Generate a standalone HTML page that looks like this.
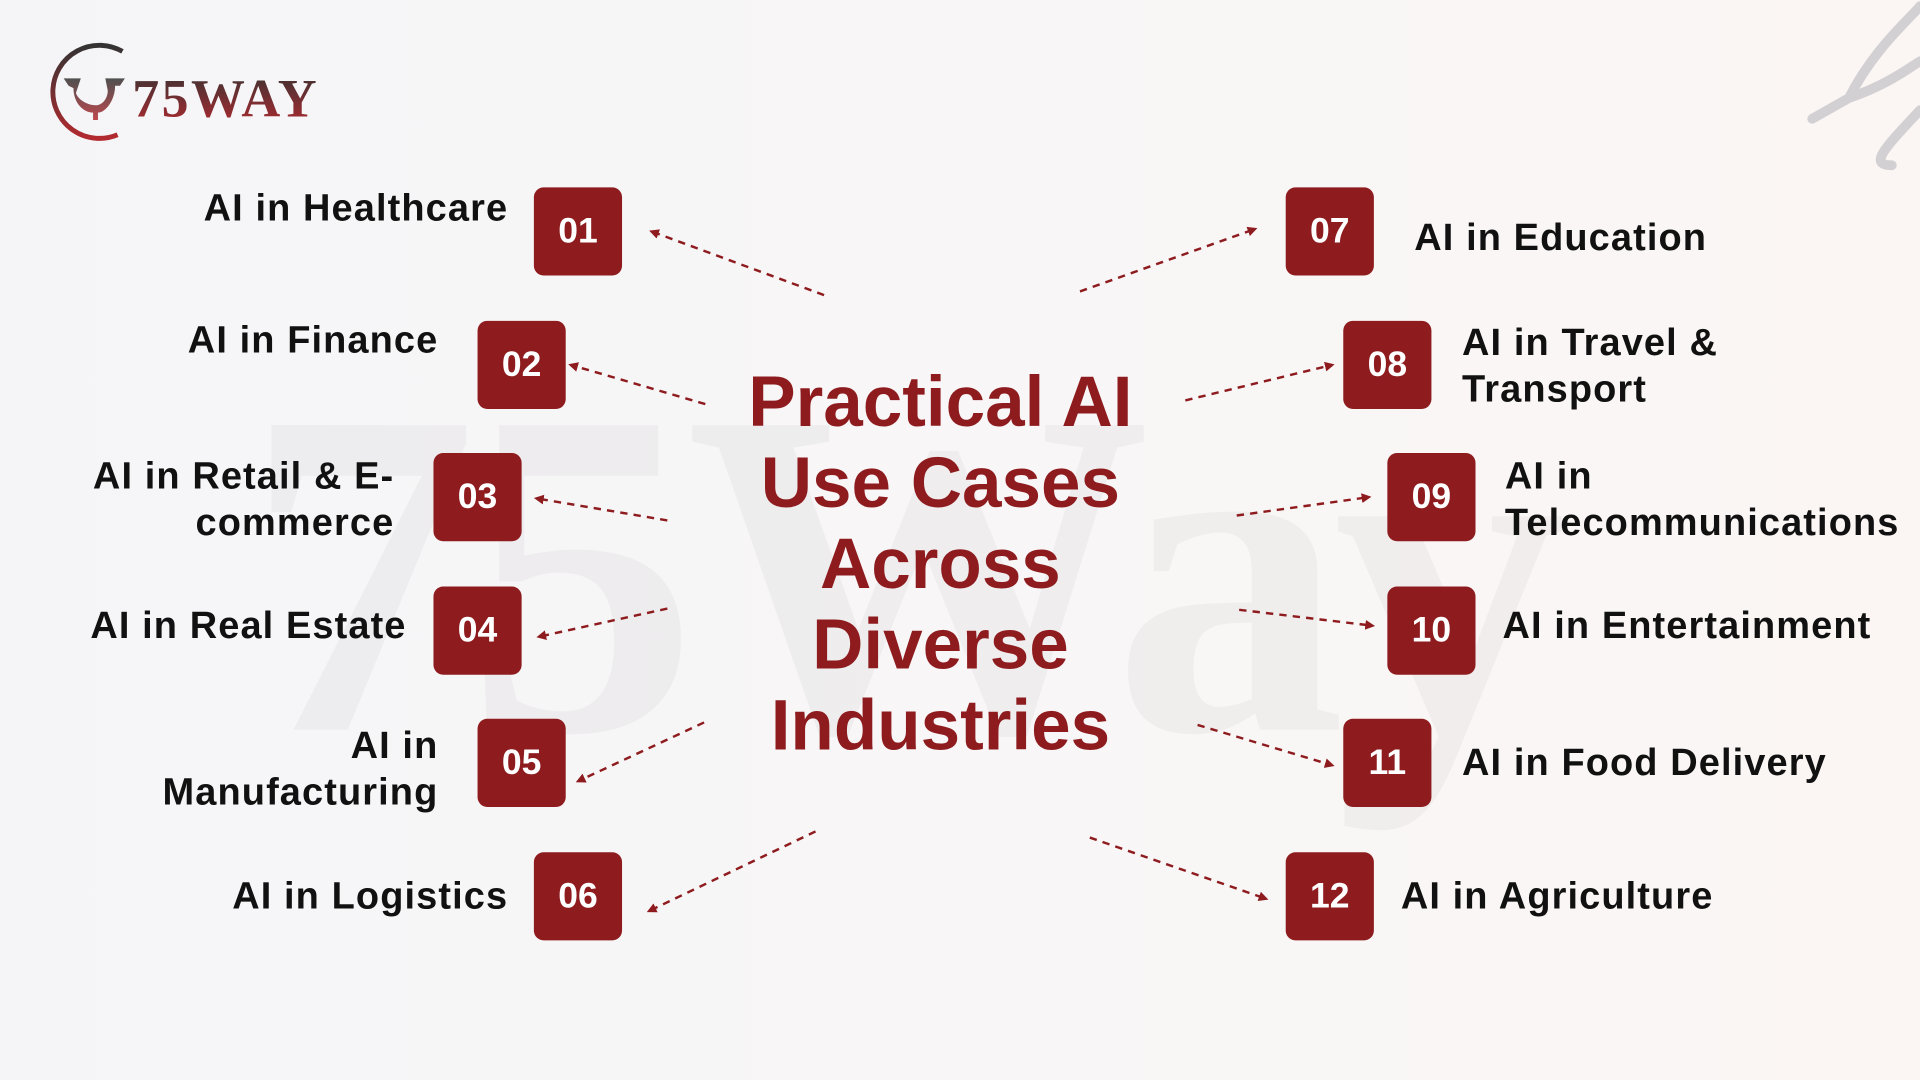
<!DOCTYPE html>
<html><head><meta charset="utf-8"><style>
html,body{margin:0;padding:0;width:1920px;height:1080px;overflow:hidden;background:#f6f5f7}
#s{position:absolute;left:0;top:0;width:1568px;height:882px;transform:scale(1.22449);transform-origin:0 0;background:linear-gradient(90deg,#f5f5f7 0%,#f8f6f7 50%,#fbf6f4 100%);font-family:"Liberation Sans",sans-serif}
.b{position:absolute;width:72px;height:72px;border-radius:8px;background:#8e1c1f;color:#fff;font-weight:bold;font-size:29px;display:flex;align-items:center;justify-content:center}
.l{position:absolute;font-size:31px;font-weight:bold;color:#111;line-height:38px;letter-spacing:0.9px}
.r{text-align:right}
#t{position:absolute;left:568px;top:296px;width:400px;text-align:center;color:#8e1c1f;font-weight:bold;font-size:58px;line-height:66px}
#wm{position:absolute;left:200px;top:250px;font-family:"Liberation Serif",serif;font-weight:bold;font-size:380px;color:rgba(0,0,0,0.035);letter-spacing:-10px}
</style></head><body><div id="s">
<div id="wm">75Way</div>
<svg width="1568" height="882" style="position:absolute;left:0;top:0">
<defs><marker id="a" markerWidth="8" markerHeight="8" refX="6" refY="4" orient="auto" markerUnits="userSpaceOnUse"><path d="M0,0 L8,4 L0,8 z" fill="#8e1c1f"/></marker>
<linearGradient id="g" x1="0" y1="0" x2="0" y2="1"><stop offset="0" stop-color="#333"/><stop offset="1" stop-color="#b22a30"/></linearGradient></defs>
<g stroke="#8e1c1f" stroke-width="2" stroke-dasharray="6,5" fill="none" marker-end="url(#a)">
<line x1="673" y1="241" x2="532" y2="189"/><line x1="576" y1="330" x2="466" y2="298"/>
<line x1="545" y1="425" x2="438" y2="407"/><line x1="545" y1="497" x2="440" y2="520"/>
<line x1="575" y1="590" x2="472" y2="638"/><line x1="666" y1="679" x2="530" y2="744"/>
<line x1="882" y1="238" x2="1025" y2="187"/><line x1="968" y1="327" x2="1088" y2="298"/>
<line x1="1010" y1="421" x2="1118" y2="406"/><line x1="1012" y1="498" x2="1121" y2="511"/>
<line x1="978" y1="592" x2="1088" y2="625"/><line x1="890" y1="684" x2="1034" y2="734"/>
</g>
<path d="M100,42 A38,38 0 1 0 96,110" stroke="url(#g)" stroke-width="4" fill="none"/>
<path d="M52,64 L66,64 L62,76 C64,82 72,86 78,86 C84,86 88,80 88,74 L86,64 L102,64 L98,70 L94,70 C94,82 86,92 80,92 L80,98 L76,98 L76,92 C68,92 60,84 60,72 L56,70 Z" fill="url(#g)" opacity="0.85"/>
<text x="108" y="95" font-family="Liberation Serif,serif" font-weight="bold" font-size="44" letter-spacing="2" fill="url(#g)">75WAY</text>
<path d="M1480,97 L1510,80 C1530,40 1560,15 1568,5 M1510,80 C1540,70 1560,55 1568,50 M1568,90 C1540,120 1525,135 1545,135" stroke="#d3d0d3" stroke-width="8" fill="none" stroke-linecap="round"/>
</svg>
<div id="t">Practical AI<br>Use Cases<br>Across<br>Diverse<br>Industries</div>
<div class="b" style="left:436px;top:153px">01</div><div class="b" style="left:390px;top:262px">02</div>
<div class="b" style="left:354px;top:370px">03</div><div class="b" style="left:354px;top:479px">04</div>
<div class="b" style="left:390px;top:587px">05</div><div class="b" style="left:436px;top:696px">06</div>
<div class="b" style="left:1050px;top:153px">07</div><div class="b" style="left:1097px;top:262px">08</div>
<div class="b" style="left:1133px;top:370px">09</div><div class="b" style="left:1133px;top:479px">10</div>
<div class="b" style="left:1097px;top:587px">11</div><div class="b" style="left:1050px;top:696px">12</div>
<div class="l r" style="right:1153px;top:151px">AI in Healthcare</div>
<div class="l r" style="right:1210px;top:259px">AI in Finance</div>
<div class="l r" style="right:1246px;top:370px">AI in Retail &amp; E-<br>commerce</div>
<div class="l r" style="right:1236px;top:492px">AI in Real Estate</div>
<div class="l r" style="right:1210px;top:590px">AI in<br>Manufacturing</div>
<div class="l r" style="right:1153px;top:713px">AI in Logistics</div>
<div class="l" style="left:1155px;top:175px">AI in Education</div>
<div class="l" style="left:1194px;top:261px">AI in Travel &amp;<br>Transport</div>
<div class="l" style="left:1229px;top:370px">AI in<br>Telecommunications</div>
<div class="l" style="left:1227px;top:492px">AI in Entertainment</div>
<div class="l" style="left:1194px;top:604px">AI in Food Delivery</div>
<div class="l" style="left:1144px;top:713px">AI in Agriculture</div>
</div></body></html>
